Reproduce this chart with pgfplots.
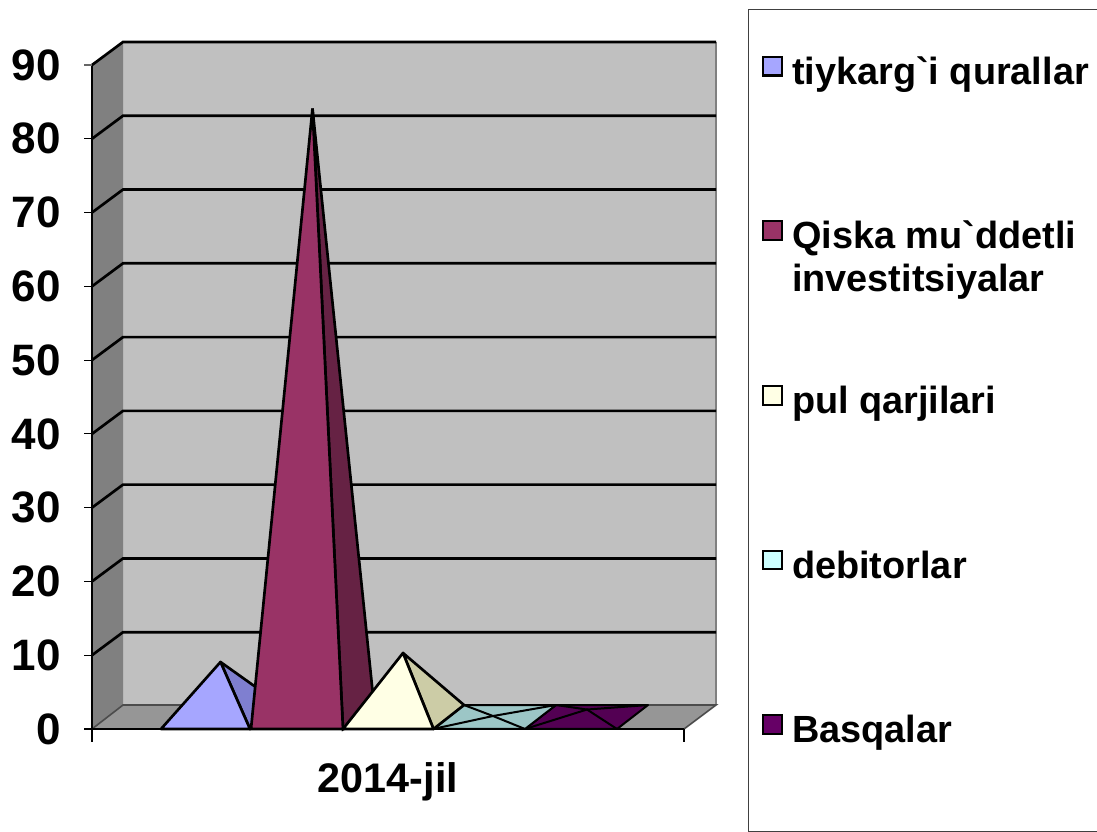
\documentclass[border=0pt]{standalone}
\usepackage{pgfplots}
\pgfplotsset{compat=1.18}
\usepackage{fontspec}
\setmainfont[Ligatures=TeXOff]{Liberation Sans}
\definecolor{wallback}{HTML}{C0C0C0}
\definecolor{wallleft}{HTML}{808080}
\definecolor{floorc}{HTML}{969696}
\definecolor{aF}{HTML}{A6A6FF}\definecolor{aS}{HTML}{7F7FD0}
\definecolor{bF}{HTML}{993366}\definecolor{bS}{HTML}{662244}
\definecolor{cF}{HTML}{FFFFE5}\definecolor{cS}{HTML}{CCCCA6}
\definecolor{dF}{HTML}{CCFFFF}\definecolor{dS}{HTML}{9CC6C6}
\definecolor{eF}{HTML}{660066}\definecolor{eS}{HTML}{530053}
\newcommand{\rowbox}[1]{\rule{0pt}{28.75pt}\hspace{7pt}\parbox[t]{260pt}{#1}}
\begin{document}
\begin{tikzpicture}[x=1pt,y=1pt]
\useasboundingbox (0,0) rectangle (822.75,624);
\draw[black!75,line width=0.75pt] (561,0.6) rectangle (830,616.5);
\begin{axis}[
  at={(69pt,77.25pt)},anchor=south west,
  scale only axis,width=468pt,height=515.25pt,
  xmin=92,xmax=716,ymin=0,ymax=93.12,enlargelimits=false,clip=false,
  axis line style={draw=none},major tick length=0pt,tick style={draw=none},
  ytick={0,10,...,90},xtick={388},xticklabels={2014-jil},
  /pgf/number format/assume math mode=true,
  yticklabel style={font=\fontsize{33}{33}\selectfont\bfseries,xshift=-20pt,text=black},
  xticklabel style={font=\fontsize{31}{31}\selectfont\bfseries,yshift=-21.5pt,text=black},
  legend cell align=left,
  legend image code/.code={\draw[#1,draw=black,line width=1.6pt] (0pt,-7pt) rectangle (14pt,7pt);},
  legend style={draw=none,fill=none,at={(axis description cs:1.0737,0.9942)},anchor=north west,
    font=\fontsize{28.4}{32.3}\selectfont\bfseries,inner sep=0pt,outer sep=0pt,row sep=93.2pt,
    nodes={inner sep=0pt,outer sep=0pt}},
]
% walls and floor
\addplot[forget plot,draw=none,fill=wallback] coordinates {(123,3.25)(716,3.25)(716,93.12)(123,93.12)} --cycle;
\addplot[forget plot,draw=none,fill=wallleft] coordinates {(92,0)(123,3.25)(123,93.12)(92,90)} --cycle;
\addplot[forget plot,draw=none,fill=floorc] coordinates {(92,0)(684,0)(716,3.25)(123,3.25)} --cycle;
\addplot[forget plot,wallleft,line width=1.5pt] coordinates {(716,3.25)(716,93.12)};
% gridlines
\addplot[forget plot,black,line width=2pt] coordinates {(92,90)(123,93.12)(716,93.12)};
\addplot[forget plot,black,line width=2pt] coordinates {(92,80)(123,83.12)(716,83.12)};
\addplot[forget plot,black,line width=2pt] coordinates {(92,70)(123,73.12)(716,73.12)};
\addplot[forget plot,black,line width=2pt] coordinates {(92,60)(123,63.12)(716,63.12)};
\addplot[forget plot,black,line width=2pt] coordinates {(92,50)(123,53.12)(716,53.12)};
\addplot[forget plot,black,line width=2pt] coordinates {(92,40)(123,43.12)(716,43.12)};
\addplot[forget plot,black,line width=2pt] coordinates {(92,30)(123,33.12)(716,33.12)};
\addplot[forget plot,black,line width=2pt] coordinates {(92,20)(123,23.12)(716,23.12)};
\addplot[forget plot,black,line width=2pt] coordinates {(92,10)(123,13.12)(716,13.12)};
\addplot[forget plot,black!70,line width=1.2pt] coordinates {(92,0)(123,3.25)(716,3.25)(684,0)};
% pyramid 1
\addplot[forget plot,draw=black,line width=2pt,fill=aS,line join=round] coordinates {(250,0)(281,3.25)(220.5,9.08)} --cycle;
\addplot[forget plot,draw=black,line width=2pt,fill=aF,line join=round] coordinates {(161,0)(250,0)(220.5,9.08)} --cycle;
% pyramid 2
\addplot[forget plot,draw=black,line width=2pt,fill=bS] coordinates {(343,0)(374,3.25)(312.5,84.1)} --cycle;
\addplot[forget plot,draw=black,line width=2pt,fill=bF] coordinates {(251,0)(343,0)(312.5,84.1)} --cycle;
% pyramid 5
\addplot[forget plot,draw=black,line width=1.5pt,fill=eS,line join=round] coordinates {(525,0)(617,0)(648,3.25)(556,3.25)} --cycle;
\addplot[forget plot,draw=black,line width=1.5pt] coordinates {(525,0)(587,2.64)(617,0)};
\addplot[forget plot,draw=black,line width=1.5pt] coordinates {(556,3.25)(587,2.64)(648,3.25)};
% pyramid 4
\addplot[forget plot,draw=black,line width=1.5pt,fill=dS,line join=round] coordinates {(433,0)(525,0)(556,3.25)(464,3.25)} --cycle;
\addplot[forget plot,draw=black,line width=1.5pt] coordinates {(433,0)(493,1.76)(556,3.25)};
\addplot[forget plot,draw=black,line width=1.5pt] coordinates {(464,3.25)(493,1.76)(525,0)};
% pyramid 3
\addplot[forget plot,draw=black,line width=2pt,fill=cS,line join=round] coordinates {(433.5,0)(464,3.25)(403,10.3)} --cycle;
\addplot[forget plot,draw=black,line width=2pt,fill=cF,line join=round] coordinates {(343,0)(433.5,0)(403,10.3)} --cycle;
% axes and ticks
\addplot[forget plot,black,line width=2.2pt] coordinates {(92,90)(92,0)(684,0)};
\addplot[forget plot,black,line width=0.8pt] coordinates {(92,0)(92,-1.76)};
\addplot[forget plot,black,line width=0.8pt] coordinates {(684,0)(684,-1.76)};
\addplot[forget plot,black!60,line width=0.8pt] coordinates {(84,90)(92,90)};
\addplot[forget plot,black,line width=0.8pt] coordinates {(84,80)(92,80)};
\addplot[forget plot,black,line width=0.8pt] coordinates {(84,70)(92,70)};
\addplot[forget plot,black,line width=0.8pt] coordinates {(84,60)(92,60)};
\addplot[forget plot,black,line width=0.8pt] coordinates {(84,50)(92,50)};
\addplot[forget plot,black,line width=0.8pt] coordinates {(84,40)(92,40)};
\addplot[forget plot,black,line width=0.8pt] coordinates {(84,30)(92,30)};
\addplot[forget plot,black,line width=0.8pt] coordinates {(84,20)(92,20)};
\addplot[forget plot,black,line width=0.8pt] coordinates {(84,10)(92,10)};
\addplot[forget plot,black,line width=0.8pt] coordinates {(84,0)(92,0)};
% legend
\addlegendimage{fill=aF}\addlegendentry{\rowbox{tiykarg`i qurallar}}
\addlegendimage{fill=bF}\addlegendentry{\rowbox{Qiska mu`ddetli\\investitsiyalar}}
\addlegendimage{fill=cF}\addlegendentry{\rowbox{pul qarjilari}}
\addlegendimage{fill=dF}\addlegendentry{\rowbox{debitorlar}}
\addlegendimage{fill=eF}\addlegendentry{\rowbox{Basqalar}}
\end{axis}
\end{tikzpicture}
\end{document}
